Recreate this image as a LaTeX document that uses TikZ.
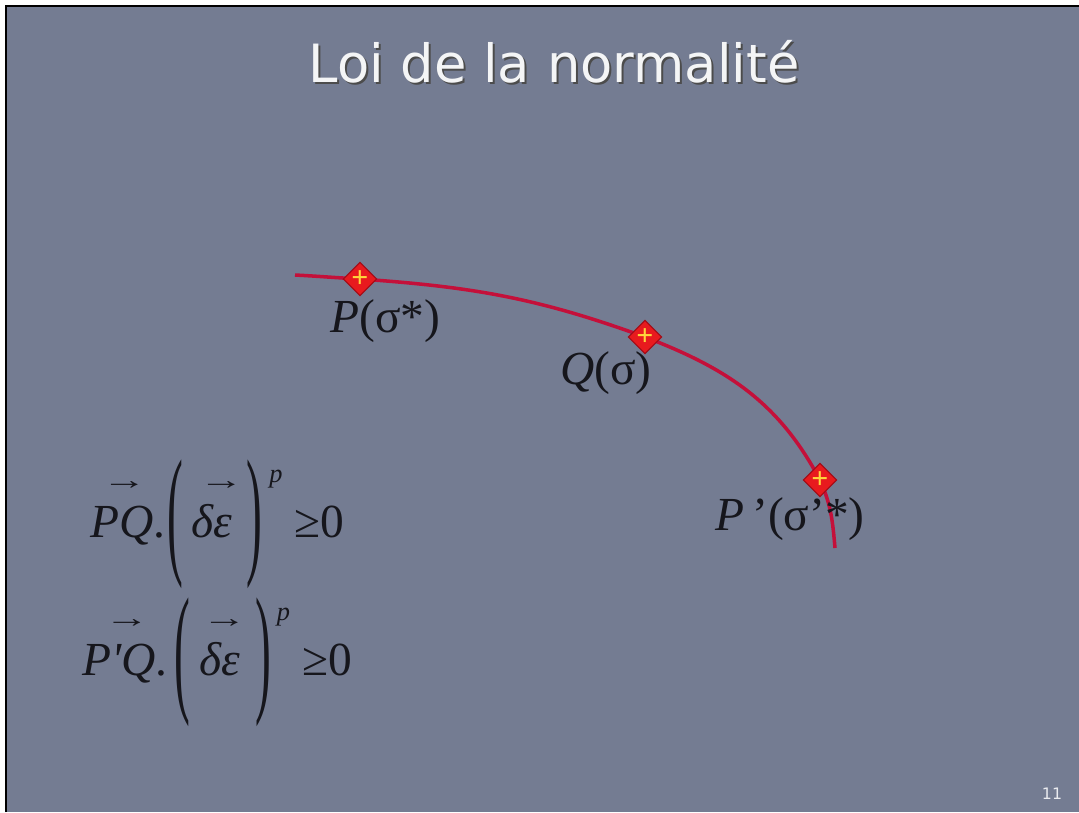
\documentclass[tikz,border=0pt]{standalone}
\usepackage{fontspec}
\setmainfont{Liberation Serif}
\newfontfamily\titlefont{DejaVu Sans}
\usetikzlibrary{shapes.geometric}
\definecolor{slide}{RGB}{116,124,146}
\definecolor{curvered}{RGB}{196,16,58}
\definecolor{markred}{RGB}{232,26,30}
\definecolor{markrim}{RGB}{160,12,24}
\definecolor{crossyel}{RGB}{255,214,60}
\definecolor{ink}{RGB}{22,22,28}
% tall thin bracket and small vector arrow
\newcommand{\tallbr}[1]{\raisebox{-12.5pt}{\scalebox{1}[3]{#1}}}
\newcommand{\vecarr}[1]{\rlap{\hspace{#1}\raisebox{27pt}{\scalebox{1.6}[1]{\fontsize{16}{16}\selectfont →}}}}

\begin{document}
\begin{tikzpicture}[x=0.02cm,y=0.02cm,
  pointmark/.style={diamond,fill=markred,draw=markrim,line width=0.6pt,inner sep=0pt,minimum size=0.65cm,text=crossyel,font=\bfseries\fontsize{17}{17}\selectfont},
  lbl/.style={font=\fontsize{27}{30}\selectfont,text=ink,anchor=base west,inner sep=0pt},
  title/.style={font=\titlefont\fontsize{30}{34}\selectfont,anchor=base,inner sep=0pt}]
\useasboundingbox (0,0) rectangle (1079,-812);
\fill[white] (0,0) rectangle (1079,-812);
\fill[slide] (6,-6) rectangle (1079,-812);
\draw[line width=1.7pt] (6,-812) -- (6,-6) -- (1079,-6);
% title
\node[title,text=black!70] (shadow) at (556,-84) {Loi de la normalité};
\node[title,text=white!92!slide] (title) at (554,-82) {Loi de la normalité};
% yield curve
\coordinate (c0) at (295,-275);
\coordinate (c1) at (835,-548);
\coordinate (p) at (360,-279);
\coordinate (q) at (645,-337);
\coordinate (pp) at (820,-480);
\draw[curvered,line width=2pt] (c0) to[out=-3,in=177] (p) to[out=-4,in=160] (q) to[out=-21,in=118] (pp) to[out=-66,in=95] (c1);
\node[pointmark] (P) at (p) {+};
\node[pointmark] (Q) at (q) {+};
\node[pointmark] (Pp) at (pp) {+};
\node[lbl] (lP) at (330,-332) {\itshape P\upshape(σ*)};
\node[lbl] (lQ) at (560,-384) {\itshape Q\upshape(σ)};
\node[lbl] (lPp) at (715,-530) {\itshape P\upshape\,’(σ’*)};
% normality conditions
\node[lbl] (eq1) at (90,-537) {\vecarr{6.5pt}{\itshape PQ}.\hspace{1pt}\tallbr{(}\hspace{5pt}\vecarr{4pt}{\itshape δε}\hspace{8pt}\tallbr{)}\hspace{4pt}\raisebox{31pt}{\fontsize{15}{15}\selectfont\itshape p}\hspace{7pt}≥0};
\node[lbl] (eq2) at (82,-675) {\vecarr{12.5pt}{\itshape P\textquotesingle Q}.\hspace{4pt}\tallbr{(}\hspace{5pt}\vecarr{1.5pt}{\itshape δε}\hspace{9pt}\tallbr{)}\hspace{3pt}\raisebox{31pt}{\fontsize{15}{15}\selectfont\itshape p}\hspace{7pt}≥0};
% slide number
\node[font=\titlefont\fontsize{9}{9}\selectfont,text=white!85!slide] (num) at (1052,-794) {11};
\end{tikzpicture}
\end{document}
